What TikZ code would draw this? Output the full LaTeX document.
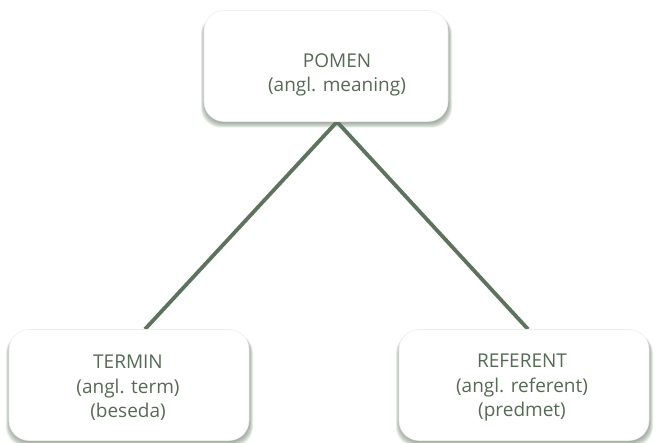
\documentclass[tikz,border=0pt]{standalone}
\usepackage{fontspec}
\setmainfont{Open Sans}
\usetikzlibrary{calc}
\definecolor{txtc}{HTML}{566A56}
\definecolor{linec}{HTML}{5E735E}
\definecolor{shadc}{HTML}{687A68}
\pgfdeclarelayer{bg}
\pgfdeclarelayer{mid}
\pgfsetlayers{bg,mid,main}
\tikzset{
  box/.style={rectangle, rounded corners=20pt, fill=white, draw=black!7, line width=0.6pt,
    minimum width=#1, minimum height=111pt, inner sep=0pt},
  lbl/.style={align=center, text=txtc, font=\fontsize{19}{24.5}\selectfont, inner sep=0pt},
  conn/.style={draw=linec, line width=3.8pt},
}
\newcommand{\softshadow}[1]{%
  \begin{pgfonlayer}{mid}
  \foreach \k in {1,...,7}{%
    \fill[shadc, opacity=0.12, rounded corners=20pt]
      ($(#1.south west)+(1.5-0.6*\k,-\k*0.85)$) rectangle ($(#1.north east)+(0.6*\k-0.5,-4)$);
  }
  \end{pgfonlayer}}
\begin{document}
\begin{tikzpicture}[x=1pt,y=1pt]
\useasboundingbox (0,0) rectangle (659,443);
\begin{pgfonlayer}{bg}
\fill[white] (0,0) rectangle (659,443);
\end{pgfonlayer}
\node[box=244pt] (pomen) at (326,377) {};
\node[box=240pt] (termin) at (129,58) {};
\node[box=250pt] (referent) at (524,58) {};
\node[lbl] (pomenT) at ($(pomen.center)+(11,-9)$) {POMEN\\(angl. meaning)};
\node[lbl] (terminT) at ($(termin.center)+(-1,-3)$) {TERMIN\\(angl. term)\\(beseda)};
\node[lbl] (referentT) at ($(referent.center)+(-2,-3)$) {REFERENT\\(angl. referent)\\(predmet)};
\coordinate (apex) at ($(pomen.south)+(11,0)$);
\coordinate (tl) at ($(termin.north)+(16,0)$);
\coordinate (rl) at ($(referent.north)+(4,0)$);
\begin{pgfonlayer}{bg}
\draw[conn] (tl) -- (apex) -- (rl);
\end{pgfonlayer}
\softshadow{pomen}
\softshadow{termin}
\softshadow{referent}
\end{tikzpicture}
\end{document}
